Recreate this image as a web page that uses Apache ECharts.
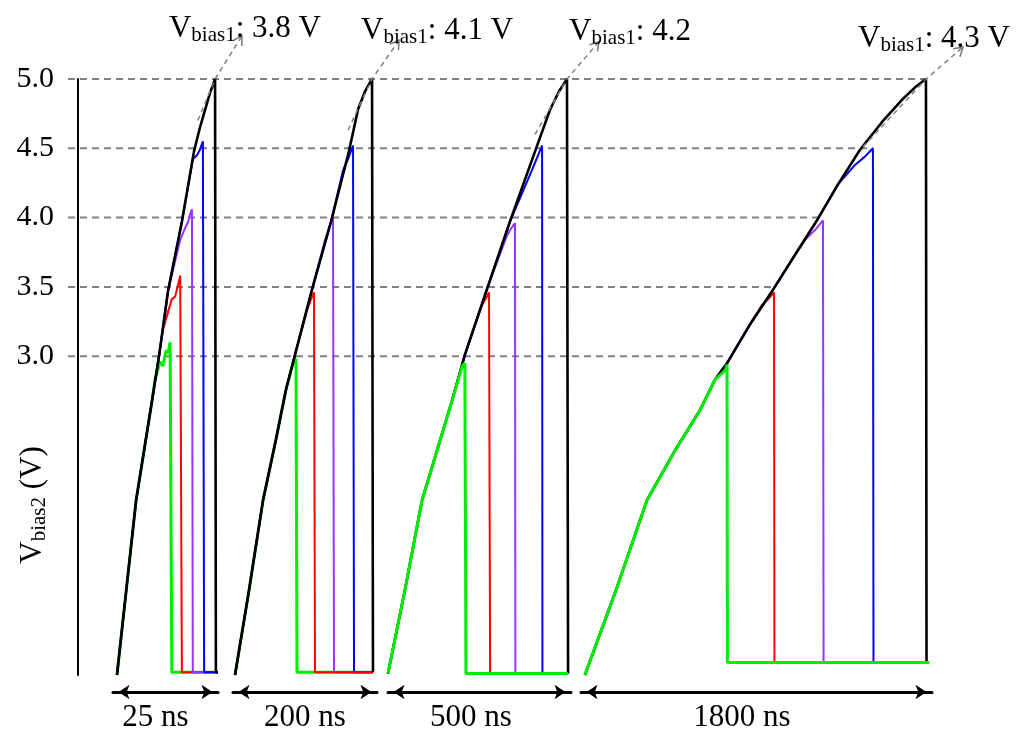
<!DOCTYPE html>
<html><head><meta charset="utf-8">
<script src="https://cdn.jsdelivr.net/npm/echarts@6/dist/echarts.min.js"></script>
<style>html,body{margin:0;padding:0;background:#fff}#c{width:1021px;height:736px}</style>
</head><body><div id="c"></div>
<script>
// ---------------- data ----------------
const segLabels = ['25 ns', '200 ns', '500 ns', '1800 ns'];
const segSpans = [25, 200, 500, 1800];            // ns per segment
const biasNotes = ['3.8 V', '4.1 V', '4.2', '4.3 V'];
const yTickValues = [3.0, 3.5, 4.0, 4.5, 5.0];
const yMin = 0.7, yMax = 5.0;
const baseV = [0.72, 0.72, 0.71, 0.79];           // level after discharge
const endT = [25, 194.5, 492, 1785];              // end of flat part

// common charging curve (black) per segment: [t ns, V]
const curve1 = [[0.95,0.70],[2.9,1.24],[5.5,1.96],[7.4,2.32],[9.3,2.68],[11.0,3.01],[13.1,3.47],[16.4,3.97],[19.3,4.48],[20.7,4.65],[23.1,4.90],[24.3,5.00]];
const curve2 = [[2.8,0.70],[22.2,1.31],[41.7,1.96],[59.7,2.40],[73.6,2.76],[86.1,3.01],[109.7,3.48],[136.1,3.97],[161.1,4.48],[173.6,4.78],[183.3,4.91],[193.1,5.00]];
const curve3 = [[0,0.71],[46,1.31],[93,1.96],[134,2.32],[175,2.68],[210,3.01],[270,3.48],[333,3.97],[402,4.48],[443,4.78],[467,4.91],[489,5.00]];
const curve4 = [[20,0.70],[179,1.31],[338,1.96],[482,2.32],[610,2.61],[687,2.83],[749,2.95],[867,3.23],[985,3.48],[1097,3.73],[1210,3.98],[1318,4.24],[1431,4.49],[1544,4.69],[1646,4.85],[1713,4.94],[1769,5.00]];

// end parts of each trace before its discharge: green, red, purple, blue
const green1 = [[10.0,2.83],[11.2,2.96],[11.9,2.93],[12.6,3.04],[13.1,3.02],[13.6,3.10]];
const red1 = [[11.9,3.19],[13.1,3.32],[14.0,3.41],[14.8,3.43],[15.2,3.48],[16.0,3.58]];
const purple1 = [[16.0,3.84],[17.1,3.92],[17.9,3.97],[18.3,4.02],[18.8,4.06]];
const blue1 = [[19.0,4.42],[20.0,4.45],[20.7,4.49],[21.4,4.55]];
const drop1 = [14.0, 16.4, 19.0, 21.7, 24.5];

const green2 = [[84.0,2.96],[87.5,2.98]];
const red2 = [[102.8,3.33],[108.3,3.41],[112.5,3.46]];
const purple2 = [[127.8,3.84],[134.7,3.95],[138.9,4.00]];
const blue2 = [[152.8,4.34],[159.7,4.42],[166.7,4.52]];
const drop2 = [88.9, 113.9, 140.3, 168.1, 194.4];

const green3 = [[203,2.93],[210,2.95]];
const red3 = [[257,3.37],[268,3.42],[276,3.46]];
const purple3 = [[325,3.87],[336,3.92],[347,3.96]];
const blue3 = [[393,4.34],[407,4.43],[421,4.52]];
const drop3 = [213, 279, 348, 422, 492];

const green4 = [[740,2.90],[749,2.94]];
const red4 = [[928,3.37],[959,3.41],[990,3.46]];
const purple4 = [[1149,3.84],[1200,3.91],[1241,3.98]];
const blue4 = [[1405,4.38],[1456,4.44],[1497,4.50]];
const drop4 = [751, 992, 1244, 1500, 1772];

// dashed annotation arrows (from curve, through the peak, to the note)
const arrow1 = [[20.2,4.70],[24.3,5.00],[30.7,5.31]];
const arrow2 = [[159.7,4.63],[193.1,5.00],[230.6,5.28]];
const arrow3 = [[401.6,4.60],[489,5.00],[576.5,5.27]];
const arrow4 = [[1446,4.51],[1769,5.00],[1959,5.23]];

// ---------------- layout / style ----------------
const FONT = 'Liberation Serif, "Times New Roman", serif';
const traceColors = ['#00ee00', '#ff0000', '#9933ff', '#0000ff', '#000000'];
const traceWidths = [3, 2, 2, 2, 2.6];
const segZ = [[1,2,3,4,5],[1,4,2,3,5],[5,1,2,3,4],[5,1,2,3,4]];
const gridBox = [[113,105],[233,144],[388,183],[581,351]]; // left, width
const namePadRight = [20, 0, 17, 29];
const noteOffsets = [[3,10],[38,8],[31,7],[-29,9]];
const levelLineLeftPad = 45;

const segments = [
  {curve: curve1, tails: [green1, red1, purple1, blue1, []], drops: drop1, arrow: arrow1},
  {curve: curve2, tails: [green2, red2, purple2, blue2, []], drops: drop2, arrow: arrow2},
  {curve: curve3, tails: [green3, red3, purple3, blue3, []], drops: drop3, arrow: arrow3},
  {curve: curve4, tails: [green4, red4, purple4, blue4, []], drops: drop4, arrow: arrow4}
];

function buildTrace(curve, tail, tDrop, base, tEnd) {
  const start = tail.length ? tail[0][0] : Infinity;
  const pts = curve.filter(p => p[0] < start).concat(tail);
  pts.push([tDrop, base]);
  if (tEnd > tDrop) pts.push([tEnd, base]);
  return pts;
}

const richV = {fontFamily: FONT, fontSize: 31, color: '#000', lineHeight: 34};
const richS = {fontFamily: FONT, fontSize: 21, color: '#000', lineHeight: 12, verticalAlign: 'bottom'};

const grid = [], xAxis = [], yAxis = [], series = [];
segments.forEach((seg, i) => {
  grid.push({left: gridBox[i][0], width: gridBox[i][1], top: 79, bottom: 61,
    containLabel: false, outerBoundsMode: 'none'});
  xAxis.push({
    type: 'value', gridIndex: i, min: 0, max: segSpans[i], offset: 17,
    axisLine: {show: true, onZero: false, symbol: ['arrow', 'arrow'], symbolSize: [11, 11],
      symbolOffset: [5.5, -5.5], lineStyle: {color: '#000', width: 3}},
    axisTick: {show: false}, axisLabel: {show: false}, splitLine: {show: false},
    name: segLabels[i], nameLocation: 'middle', nameGap: 10, nameMoveOverlap: false,
    nameTextStyle: {fontFamily: FONT, fontSize: 31, color: '#000', padding: [0, namePadRight[i], 0, 0]}
  });
  yAxis.push({
    type: 'value', gridIndex: i, min: yMin, max: yMax, show: i === 0, offset: 35,
    axisLine: {show: true, onZero: false, lineStyle: {color: '#000', width: 2}},
    axisTick: {show: false}, splitLine: {show: false},
    axisLabel: {customValues: yTickValues, formatter: v => v.toFixed(1),
      fontFamily: FONT, fontSize: 30, color: '#000', margin: 24},
    name: '{v|V}{s|bias2}{v| (V)}', nameLocation: 'middle', nameGap: 28, nameMoveOverlap: false,
    nameTextStyle: {padding: [0, 256, 0, 0], rich: {v: richV, s: richS}}
  });
  seg.tails.forEach((tail, c) => {
    series.push({
      type: 'line', xAxisIndex: i, yAxisIndex: i, symbol: 'none', clip: false, silent: true,
      data: buildTrace(seg.curve, tail, seg.drops[c], baseV[i], endT[i]),
      lineStyle: {color: traceColors[c], width: traceWidths[c]}, z: 10 + segZ[i][c]
    });
  });
});

const chart = echarts.init(document.getElementById('c'));
chart.setOption({animation: false, backgroundColor: '#fff', grid, xAxis, yAxis, series});

// ---- annotations placed through the chart's own scales ----
const gfx = [];
const seg4Peaks = segments[3].tails.map((t, c) => c < 4 ? t[t.length - 1][0] : curve4[curve4.length - 1][0]);
const xLeft = chart.convertToPixel({xAxisIndex: 0, yAxisIndex: 0}, [0, yMin])[0] - levelLineLeftPad;
yTickValues.forEach((lv, c) => {
  const p = chart.convertToPixel({xAxisIndex: 3, yAxisIndex: 3}, [seg4Peaks[c], lv]);
  gfx.push({type: 'line', silent: true, z: 1,
    shape: {x1: xLeft, y1: p[1], x2: p[0], y2: p[1]},
    style: {stroke: '#808080', lineWidth: 2, lineDash: [7, 5]}});
});
segments.forEach((seg, i) => {
  const pts = seg.arrow.map(p => chart.convertToPixel({xAxisIndex: i, yAxisIndex: i}, p));
  gfx.push({type: 'polyline', silent: true, z: 30, shape: {points: pts},
    style: {stroke: '#808080', lineWidth: 1.5, lineDash: [5, 4], fill: 'none'}});
  const a = pts[pts.length - 1], b = pts[pts.length - 2];
  const ang = Math.atan2(a[1] - b[1], a[0] - b[0]);
  const L = 10, spread = 0.55;
  const h1 = [a[0] - L * Math.cos(ang - spread), a[1] - L * Math.sin(ang - spread)];
  const h2 = [a[0] - L * Math.cos(ang + spread), a[1] - L * Math.sin(ang + spread)];
  gfx.push({type: 'polyline', silent: true, z: 30, shape: {points: [h1, a, h2]},
    style: {stroke: '#808080', lineWidth: 1.6, fill: 'none'}});
  gfx.push({type: 'text', silent: true, z: 30,
    x: a[0] + noteOffsets[i][0], y: a[1] + noteOffsets[i][1],
    style: {text: '{v|V}{s|bias1}{v|: ' + biasNotes[i] + '}', rich: {v: richV, s: richS},
      align: 'center', verticalAlign: 'bottom', textAlign: 'center', textVerticalAlign: 'bottom'}});
});
chart.setOption({graphic: gfx});
</script></body></html>
